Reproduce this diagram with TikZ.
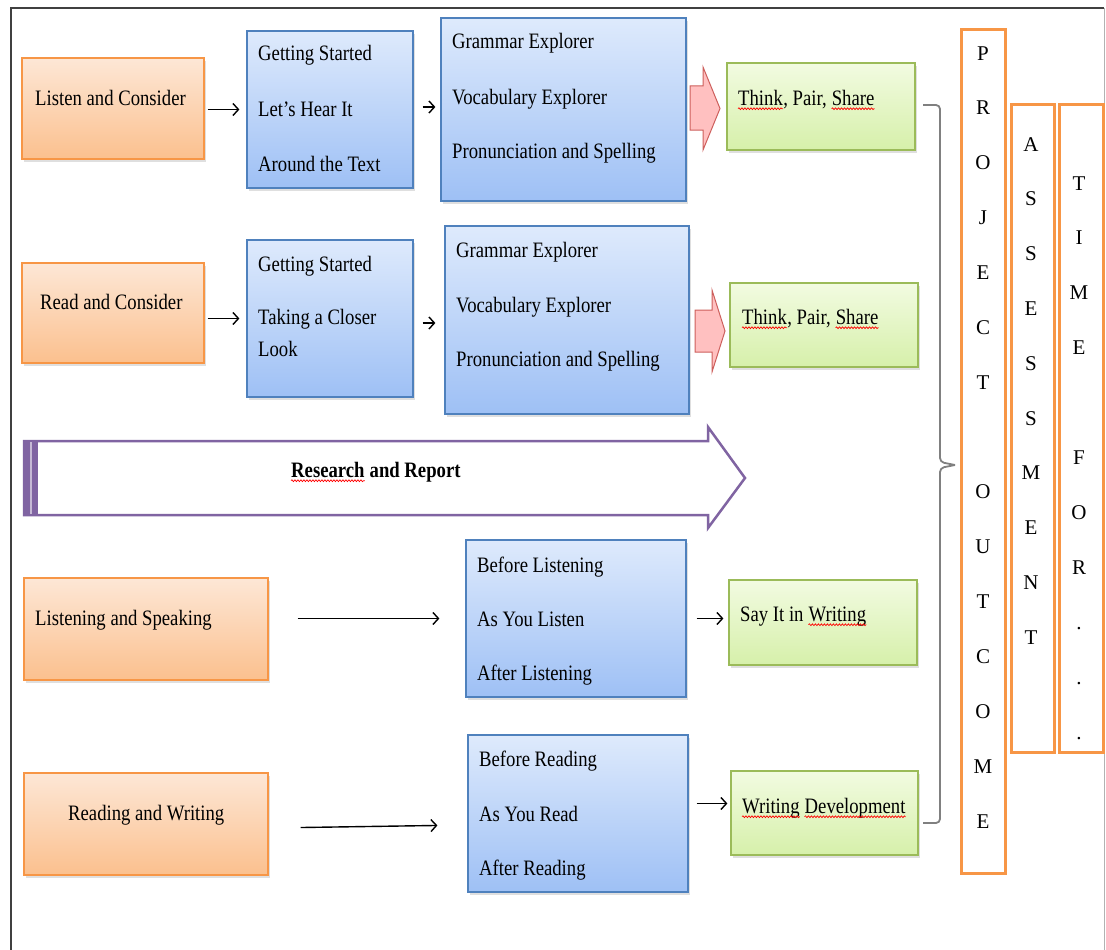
\documentclass[tikz,border=0pt]{standalone}
\usepackage{fontspec}
\setmainfont[FakeStretch=0.85]{Liberation Serif}
\newfontfamily\wideserif{Liberation Serif}
\usetikzlibrary{arrows.meta,shadows,positioning,decorations.pathmorphing}

\definecolor{orline}{RGB}{247,150,70}
\definecolor{ortop}{RGB}{253,231,214}
\definecolor{orbot}{RGB}{251,192,142}
\definecolor{blline}{RGB}{79,129,189}
\definecolor{bltop}{RGB}{222,234,252}
\definecolor{blbot}{RGB}{158,192,245}
\definecolor{grline}{RGB}{155,187,89}
\definecolor{grtop}{RGB}{242,251,225}
\definecolor{grbot}{RGB}{214,240,170}
\definecolor{pkline}{RGB}{205,95,92}
\definecolor{pkfill}{RGB}{255,192,192}
\definecolor{purp}{RGB}{128,100,162}

\begin{document}
\begin{tikzpicture}[x=1pt,y=-1pt,
  box/.style={draw,line width=1.2pt,inner sep=0pt,
    drop shadow={shadow xshift=2pt,shadow yshift=-3pt,opacity=.25}},
  orangebox/.style={box,draw=orline,top color=ortop,bottom color=orbot},
  bluebox/.style={box,draw=blline,top color=bltop,bottom color=blbot},
  greenbox/.style={box,draw=grline,top color=grtop,bottom color=grbot},
  tallbox/.style={draw=orline,line width=3pt,fill=white,inner sep=0pt},
  txt/.style={anchor=west,inner sep=0pt,font=\fontsize{22}{26}\selectfont,
    text height=18pt,text depth=2pt},
  letter/.style={inner sep=0pt,font=\wideserif\fontsize{21}{25}\selectfont,
    text height=18pt,text depth=2pt},
  arr/.style={line width=1.4pt,-{Straight Barb[length=5.5pt,width=12pt]}},
  wavy/.style={red,line width=0.7pt,decorate,
    decoration={snake,segment length=3pt,amplitude=0.9pt}}]

\useasboundingbox (0,0) rectangle (1106,950);
\draw[line width=1.5pt,black!75] (11,950) -- (11,8) -- (1104,8);
\draw[black!30] (1104,8) -- (1104,950);

\node[orangebox,minimum width=182,minimum height=101] (lc) at (113,108.5) {};
\node[txt] (lct) at (35,97) {Listen and Consider};
\node[bluebox,minimum width=166,minimum height=157] (gs1) at (330,109.5) {};
\node[txt] (gs1a) at (258,53) {Getting Started};
\node[txt] (gs1b) at (258,108) {Let's Hear It};
\node[txt] (gs1c) at (258,163) {Around the Text};
\node[bluebox,minimum width=245,minimum height=183] (ge1) at (563.5,109.5) {};
\node[txt] (ge1a) at (452,41) {Grammar Explorer};
\node[txt] (ge1b) at (452,96) {Vocabulary Explorer};
\node[txt] (ge1c) at (452,150) {Pronunciation and Spelling};
\node[greenbox,minimum width=188,minimum height=87] (tps1) at (821,106.5) {};
\node[txt] (tps1a) at (738,97) {Think};
\node[txt,right=0pt of tps1a] (tps1b) {,~Pair,};
\node[txt,right=4.7pt of tps1b] (tps1c) {Share};
\draw[pkline,fill=pkfill,line width=1pt] (690,86) -- (703,86) -- (703,67) -- (720,108.5)
  -- (703,150) -- (703,130) -- (690,130) -- cycle;

\node[orangebox,minimum width=182,minimum height=100] (rc) at (113,313) {};
\node[txt] (rct) at (40,301) {Read and Consider};
\node[bluebox,minimum width=166,minimum height=157] (gs2) at (330,318.5) {};
\node[txt] (gs2a) at (258,263) {Getting Started};
\node[txt] (gs2b) at (258,316) {Taking a Closer};
\node[txt] (gs2c) at (258,348) {Look};
\node[bluebox,minimum width=244,minimum height=188] (ge2) at (567,320) {};
\node[txt] (ge2a) at (456,249) {Grammar Explorer};
\node[txt] (ge2b) at (456,304) {Vocabulary Explorer};
\node[txt] (ge2c) at (456,358) {Pronunciation and Spelling};
\node[greenbox,minimum width=188,minimum height=84] (tps2) at (824,325) {};
\node[txt] (tps2a) at (742,316) {Think};
\node[txt,right=0pt of tps2a] (tps2b) {,~Pair,};
\node[txt,right=4.7pt of tps2b] (tps2c) {Share};
\draw[pkline,fill=pkfill,line width=1pt] (695,310) -- (712,310) -- (712,290) -- (725,331)
  -- (712,372) -- (712,352) -- (695,352) -- cycle;

\draw[purp,fill=white,line width=2.5pt] (24,441) -- (708,441) -- (708,427) -- (745,478)
  -- (708,528) -- (708,515) -- (24,515) -- cycle;
\fill[purp] (23,440) rectangle (38,516);
\draw[purp!45,line width=1.5pt] (31,442) -- (31,514);
\node[txt,font=\fontsize{22}{26}\selectfont\bfseries] (rra) at (291,469) {Research};
\node[txt,font=\fontsize{22}{26}\selectfont\bfseries,right=0pt of rra] (rrb) {~and Report};

\node[orangebox,minimum width=244,minimum height=102] (ls) at (146,629) {};
\node[txt] (lst) at (35,617) {Listening and Speaking};
\node[bluebox,minimum width=220,minimum height=157] (bl) at (576,618.5) {};
\node[txt] (bla) at (477,564) {Before Listening};
\node[txt] (blb) at (477,618) {As You Listen};
\node[txt] (blc) at (477,672) {After Listening};
\node[greenbox,minimum width=188,minimum height=85] (siw) at (823,622.5) {};
\node[txt] (siwa) at (740,613) {Say It in};
\node[txt,right=4.7pt of siwa] (siwb) {Writing};

\node[orangebox,minimum width=244,minimum height=102] (rw) at (146,824) {};
\node[txt] (rwt) at (68,812) {Reading and Writing};
\node[bluebox,minimum width=220,minimum height=157] (br) at (578,813.5) {};
\node[txt] (bra) at (479,758) {Before Reading};
\node[txt] (brb) at (479,813) {As You Read};
\node[txt] (brc) at (479,867) {After Reading};
\node[greenbox,minimum width=187,minimum height=84] (wd) at (824.5,813) {};
\node[txt] (wda) at (742,805) {Writing};
\node[txt,right=4.7pt of wda] (wdb) {Development};

\foreach \w in {tps1a,tps1c,tps2a,tps2c,rra,siwb,wda,wdb}
  \draw[wavy] ([yshift=-1.5pt]\w.south west) -- ([yshift=-1.5pt]\w.south east);

\draw[arr,shorten <=3pt,shorten >=7pt] (lc.east |- gs1.west) -- (gs1.west);
\draw[arr,shorten <=9pt,shorten >=5pt] ([yshift=2.5pt]gs1.east) -- ([yshift=2.5pt]ge1.west);
\draw[arr,shorten <=3pt,shorten >=7pt] (rc.east |- gs2.west) -- (gs2.west);
\draw[arr,shorten <=9pt,shorten >=9pt] ([yshift=-4.5pt]gs2.east) -- ([yshift=-3pt]ge2.west);
\draw[arr,shorten <=29pt,shorten >=26pt] (ls.east |- bl.west) -- (bl.west);
\draw[arr,shorten <=10pt,shorten >=5pt] (bl.east) -- (bl.east -| siw.west);
\draw[arr,shorten <=32pt,shorten >=30pt] ([yshift=-4pt]rw.east) -- ([yshift=-11.5pt]br.west);
\draw[arr,shorten <=8pt,shorten >=3pt] ([yshift=10pt]br.east) -- ([yshift=10pt]br.east -| wd.west);

\draw[black!50,line width=1.8pt,rounded corners=4pt] (923,105) -| (940,462) -- (955,465);
\draw[black!50,line width=1.8pt,rounded corners=4pt] (955,465) -- (940,468) |- (923,823);

\node[tallbox,minimum width=44,minimum height=843] (po) at (983,451.5) {};
\node[tallbox,minimum width=43,minimum height=648] (as) at (1032.5,428) {};
\node[tallbox,minimum width=44,minimum height=648] (tf) at (1081,428) {};
\foreach \l [count=\i from 0] in {P,R,O,J,E,C,T,{},O,U,T,C,O,M,E}
  \node[letter] (po\i) at (983,{52+54.86*\i}) {\l};
\foreach \l [count=\i from 0] in {A,S,S,E,S,S,M,E,N,T}
  \node[letter] (as\i) at (1031,{143+54.8*\i}) {\l};
\foreach \l [count=\i from 0] in {T,I,M,E,{},F,O,R,.,.,.}
  \node[letter] (tf\i) at (1079,{182+54.9*\i}) {\l};
\end{tikzpicture}
\end{document}
